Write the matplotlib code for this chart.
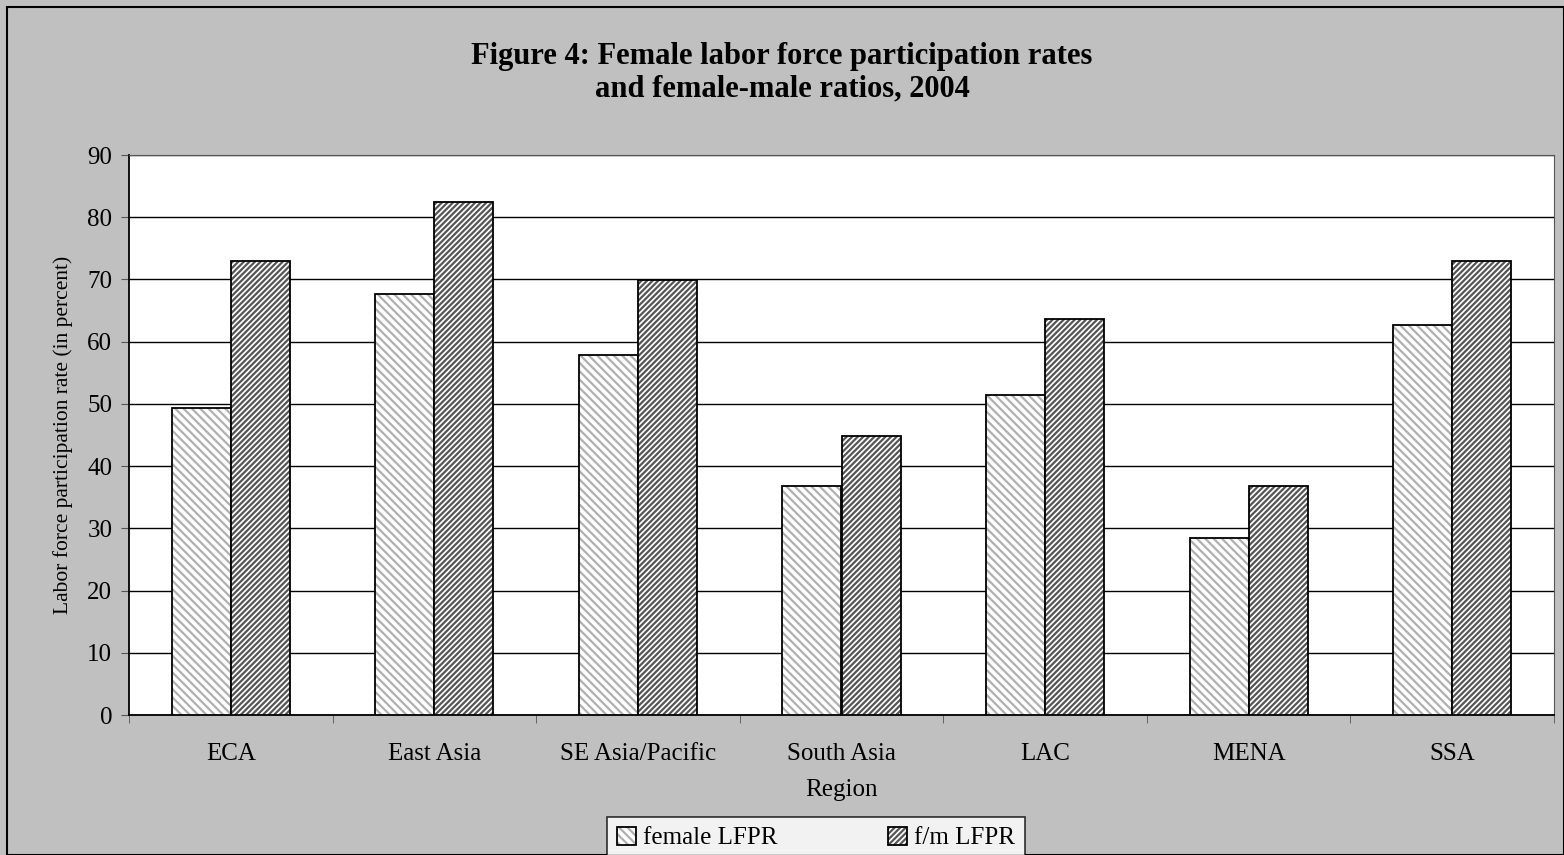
import numpy as np
import matplotlib.pyplot as plt
import matplotlib as mpl
from matplotlib.patches import Rectangle

# --- Data ---
regions = ['ECA', 'East Asia', 'SE Asia/Pacific', 'South Asia', 'LAC', 'MENA', 'SSA']
female_lfpr = [49.3, 67.7, 57.8, 36.8, 51.4, 28.4, 62.7]
fm_lfpr = [72.9, 82.5, 69.9, 44.8, 63.6, 36.8, 73.0]
yticks = [0, 10, 20, 30, 40, 50, 60, 70, 80, 90]

plt.rcParams['font.family'] = ['Liberation Serif', 'DejaVu Serif']
mpl.rcParams['hatch.linewidth'] = 1.6

fig = plt.figure(figsize=(15.64, 8.55), dpi=100, facecolor='#C0C0C0')
fig.patches.append(Rectangle((7 / 1564, 0), 1 - 7 / 1564, 1 - 7 / 855, transform=fig.transFigure,
                             fill=False, edgecolor='black', linewidth=1.5))
ax = fig.add_axes([129 / 1564, 1 - 715 / 855, (1554 - 129) / 1564, (715 - 155) / 855])
ax.set_facecolor('white')

x = np.arange(len(regions))
w = 0.29
mpl.rcParams['hatch.color'] = '#A8A8A8'
b1 = ax.bar(x - w / 2, female_lfpr, w, color='white', edgecolor='black', linewidth=1.3,
            hatch='\\\\\\\\', label='female LFPR', zorder=3)
b2 = ax.bar(x + w / 2, fm_lfpr, w, color='white', edgecolor='black', linewidth=1.3,
            hatch='//////', label='f/m LFPR', zorder=3)
for b in b2:
    b._hatch_color = mpl.colors.to_rgba('#555555')
for b in b1:
    b._hatch_color = mpl.colors.to_rgba('#B0B0B0')

ax.set_xlim(-0.5, len(regions) - 0.5)
ax.set_ylim(0, 90)
ax.set_yticks(yticks)
ax.yaxis.grid(True, color='black', linewidth=1)
ax.set_axisbelow(True)
ax.set_xticks(x)
ax.set_xticklabels(regions, fontsize=18)
ax.tick_params(axis='x', length=0, pad=20)
ax.set_xticks(np.arange(len(regions) + 1) - 0.5, minor=True)
ax.tick_params(axis='x', which='minor', length=6, color='#555555')
ax.tick_params(axis='y', labelsize=18, length=6, color='#555555', pad=6)
for s in ['top', 'right']:
    ax.spines[s].set_color('#555555')
for s in ['left', 'bottom']:
    ax.spines[s].set_color('black')
    ax.spines[s].set_linewidth(1.3)

ax.set_xlabel('Region', fontsize=18, labelpad=10)
ax.set_ylabel('Labor force participation rate (in percent)', fontsize=15.5, labelpad=10)

fig.text(0.5, 1 - 73 / 855, 'Figure 4: Female labor force participation rates\nand female-male ratios, 2004',
         ha='center', va='center', fontsize=22, fontweight='bold', linespacing=1.15)

leg = fig.legend(handles=[b1, b2], loc='center', bbox_to_anchor=(816 / 1564, 1 - 838 / 855), ncol=2,
                 fontsize=18, frameon=True, fancybox=False, edgecolor='black', handlelength=0.75,
                 handleheight=0.75, columnspacing=4.4, borderpad=0.4, handletextpad=0.3)
leg.get_frame().set_linewidth(1.2)

plt.savefig('out.png', dpi=100, facecolor=fig.get_facecolor())
